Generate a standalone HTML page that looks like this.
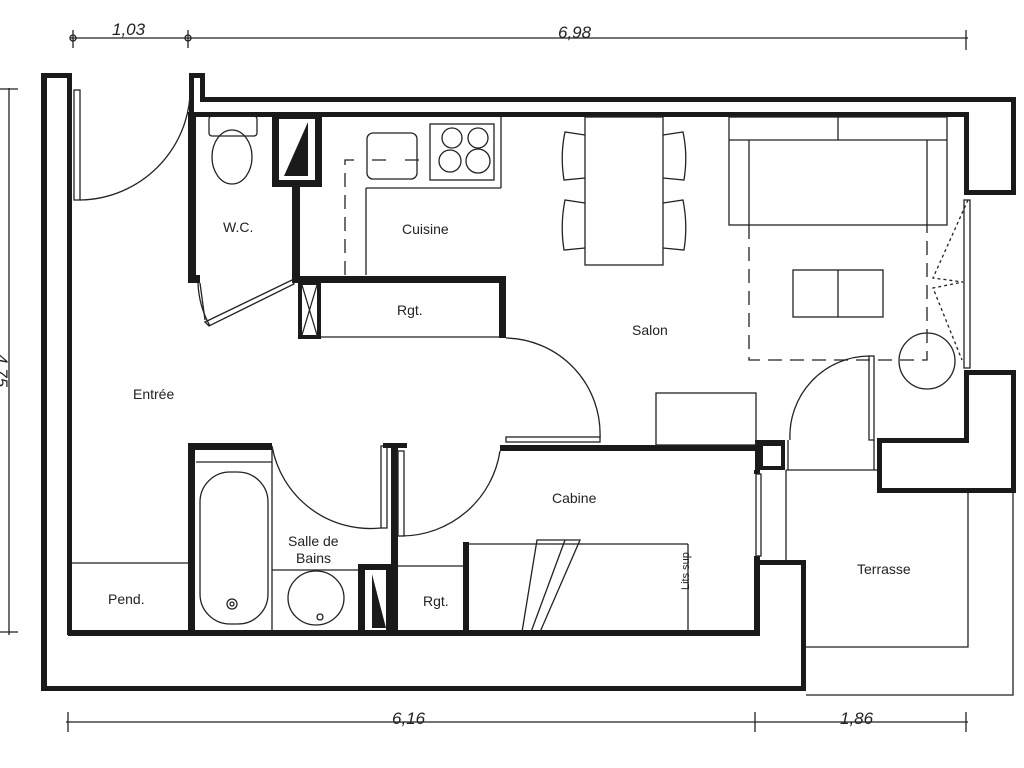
<!DOCTYPE html>
<html><head><meta charset="utf-8"><style>
html,body{margin:0;padding:0;background:#fff;}
svg{display:block;}
text{font-family:"Liberation Sans",Arial,sans-serif;fill:#222;}
</style></head><body>
<svg width="1024" height="768" viewBox="0 0 1024 768" xmlns="http://www.w3.org/2000/svg">
<g fill="none" stroke="#222" stroke-width="1.3">
<line x1="70" y1="38" x2="968" y2="38"/>
<line x1="73" y1="30" x2="73" y2="48"/><circle cx="73" cy="38" r="3"/>
<line x1="188" y1="30" x2="188" y2="48"/><circle cx="188" cy="38" r="3"/>
<line x1="966" y1="30" x2="966" y2="50"/>
<line x1="66" y1="722" x2="968" y2="722"/>
<line x1="68" y1="712" x2="68" y2="732"/>
<line x1="755" y1="712" x2="755" y2="732"/>
<line x1="966" y1="712" x2="966" y2="732"/>
<line x1="9" y1="88" x2="9" y2="635"/>
<line x1="0" y1="89" x2="18" y2="89"/><line x1="0" y1="632" x2="18" y2="632"/>
</g>
<text x="112" y="35" font-size="17" font-style="italic">1,03</text>
<text x="558" y="38" font-size="17" font-style="italic">6,98</text>
<text x="392" y="724" font-size="17" font-style="italic">6,16</text>
<text x="840" y="724" font-size="17" font-style="italic">1,86</text>
<text x="0" y="350" font-size="17" font-style="italic" transform="rotate(90 -4 350)">4,75</text>

<g fill="#1a1a1a">
<rect x="41" y="73" width="6" height="618"/>
<rect x="41" y="73" width="31" height="5"/>
<rect x="67" y="73" width="5" height="562"/>
<rect x="41" y="686" width="765" height="5"/>
<rect x="801" y="562" width="5" height="129"/>
<rect x="757" y="560" width="49" height="5"/>
<rect x="189" y="73" width="16" height="5"/>
<rect x="200" y="73" width="5" height="28"/>
<rect x="200" y="97" width="816" height="5"/>
<rect x="189" y="73" width="5" height="45"/>
<rect x="189" y="112" width="780" height="5"/>
<rect x="1011" y="97" width="5" height="98"/>
<rect x="964" y="112" width="5" height="82"/>
<rect x="964" y="190" width="52" height="5"/>
<rect x="964" y="370" width="52" height="5"/>
<rect x="1011" y="370" width="5" height="123"/>
<rect x="964" y="370" width="5" height="72"/>
<rect x="877" y="438" width="92" height="5"/>
<rect x="877" y="438" width="5" height="55"/>
<rect x="877" y="488" width="139" height="5"/>
<rect x="188" y="112" width="8" height="170"/>
<rect x="188" y="275" width="12" height="8"/>
<rect x="272" y="112" width="50" height="75" />
<rect x="292" y="185" width="8" height="98"/>
<rect x="298" y="276" width="208" height="7"/>
<rect x="499" y="276" width="7" height="62"/>
<rect x="298" y="280" width="23" height="59"/>
<rect x="68" y="630" width="692" height="6"/>
<rect x="188" y="443" width="84" height="7"/>
<rect x="188" y="443" width="7" height="192"/>
<rect x="391" y="444" width="7" height="192"/>
<rect x="383" y="443" width="24" height="5"/>
<rect x="358" y="564" width="40" height="72"/>
<rect x="500" y="445" width="258" height="6"/>
<rect x="755" y="440" width="30" height="30"/>
<rect x="463" y="542" width="6" height="94"/>
<rect x="754" y="470" width="6" height="4"/>
<rect x="754" y="556" width="6" height="80"/>
</g>
<g fill="#fff">
<rect x="279" y="119" width="36" height="61"/>
<rect x="302" y="285" width="15" height="50"/>
<rect x="763" y="446" width="18" height="20"/>
<rect x="365" y="570" width="21" height="60"/>
</g>
<g fill="#1a1a1a">
<polygon points="308,122 308,176 284,176"/>
<polygon points="372,574 372,628 386,628"/>
</g>
<g fill="none" stroke="#222" stroke-width="1.3">
<line x1="302" y1="285" x2="317" y2="335"/><line x1="317" y1="285" x2="302" y2="335"/>
<line x1="321" y1="337" x2="500" y2="337"/>
<rect x="74" y="90" width="6" height="110"/>
<path d="M80 200 A112 112 0 0 0 190 80"/>
<path d="M200 283 L205 320"/>
<path d="M205 322 L292 280 L294 284 L209 326 Z"/>
<path d="M198 283 A95 95 0 0 0 210 326"/>
<rect x="209" y="116" width="48" height="20" rx="3"/>
<ellipse cx="232" cy="157" rx="20" ry="27"/>
<line x1="501" y1="117" x2="501" y2="188"/>
<line x1="366" y1="188" x2="501" y2="188"/>
<line x1="366" y1="188" x2="366" y2="275"/>
<rect x="367" y="133" width="50" height="46" rx="6"/>
<rect x="430" y="124" width="64" height="56"/>
<circle cx="452" cy="138" r="10"/><circle cx="478" cy="138" r="10"/>
<circle cx="450" cy="161" r="11"/><circle cx="478" cy="161" r="12"/>
<path d="M345 275 V160 H360 M372 160 H392 M405 160 H420" stroke-dasharray="14 8"/>
<rect x="585" y="117" width="78" height="148"/>
<path d="M585 135 L565 132 Q560 155 564 180 L585 178"/>
<path d="M585 203 L565 200 Q560 225 564 250 L585 248"/>
<path d="M663 135 L683 132 Q688 155 684 180 L663 178"/>
<path d="M663 203 L683 200 Q688 225 684 250 L663 248"/>
<rect x="729" y="117" width="218" height="108"/>
<line x1="729" y1="140" x2="947" y2="140"/>
<line x1="749" y1="140" x2="749" y2="225"/>
<line x1="927" y1="140" x2="927" y2="225"/>
<line x1="838" y1="117" x2="838" y2="140"/>
<path d="M749 225 V360 H927 V225" stroke-dasharray="14 8"/>
<rect x="793" y="270" width="90" height="47"/>
<line x1="838" y1="270" x2="838" y2="317"/>
<circle cx="927" cy="361" r="28"/>
<rect x="964" y="200" width="6" height="168"/>
<path d="M968 200 L933 278 L963 282 L933 288 L962 360" stroke-dasharray="3 3"/>
<rect x="869" y="356" width="5" height="84"/>
<path d="M869 356 A80 80 0 0 0 790 440"/>
<path d="M788 440 V470 M874 440 V470"/>
<line x1="786" y1="470" x2="877" y2="470"/>
<rect x="656" y="393" width="100" height="52"/>
<path d="M506 338 A96 96 0 0 1 600 438"/>
<rect x="506" y="437" width="94" height="5"/>
<rect x="756" y="474" width="5" height="82"/>
<line x1="786" y1="470" x2="786" y2="560"/>
<path d="M806 647 H968 V493"/>
<path d="M806 695 H1013 V493"/>
<path d="M272 446 A100 100 0 0 0 381 528"/>
<rect x="381" y="446" width="6" height="82"/>
<path d="M500 451 A100 100 0 0 1 402 536"/>
<rect x="398" y="451" width="6" height="85"/>
<line x1="196" y1="462" x2="272" y2="462"/>
<line x1="272" y1="450" x2="272" y2="632"/>
<rect x="200" y="472" width="68" height="152" rx="30"/>
<circle cx="232" cy="604" r="5"/><circle cx="232" cy="604" r="2"/>
<line x1="272" y1="570" x2="358" y2="570"/>
<ellipse cx="316" cy="598" rx="28" ry="27"/>
<circle cx="320" cy="617" r="3"/>
<line x1="398" y1="566" x2="463" y2="566"/>
<line x1="72" y1="563" x2="188" y2="563"/>
<line x1="469" y1="544" x2="688" y2="544"/>
<line x1="688" y1="544" x2="688" y2="632"/>
<path d="M522 632 L537 540 L580 540 L540 632"/>
<line x1="565" y1="540" x2="531" y2="632"/>
</g>
<g font-size="14">
<text x="223" y="232">W.C.</text>
<text x="402" y="234">Cuisine</text>
<text x="397" y="315">Rgt.</text>
<text x="632" y="335">Salon</text>
<text x="133" y="399">Entrée</text>
<text x="552" y="503">Cabine</text>
<text x="288" y="546">Salle de</text>
<text x="296" y="563">Bains</text>
<text x="108" y="604">Pend.</text>
<text x="423" y="606">Rgt.</text>
<text x="857" y="574">Terrasse</text>
<text x="0" y="0" font-size="11" transform="translate(689 590) rotate(-90)">Lits sup</text>
</g>
</svg>
</body></html>
